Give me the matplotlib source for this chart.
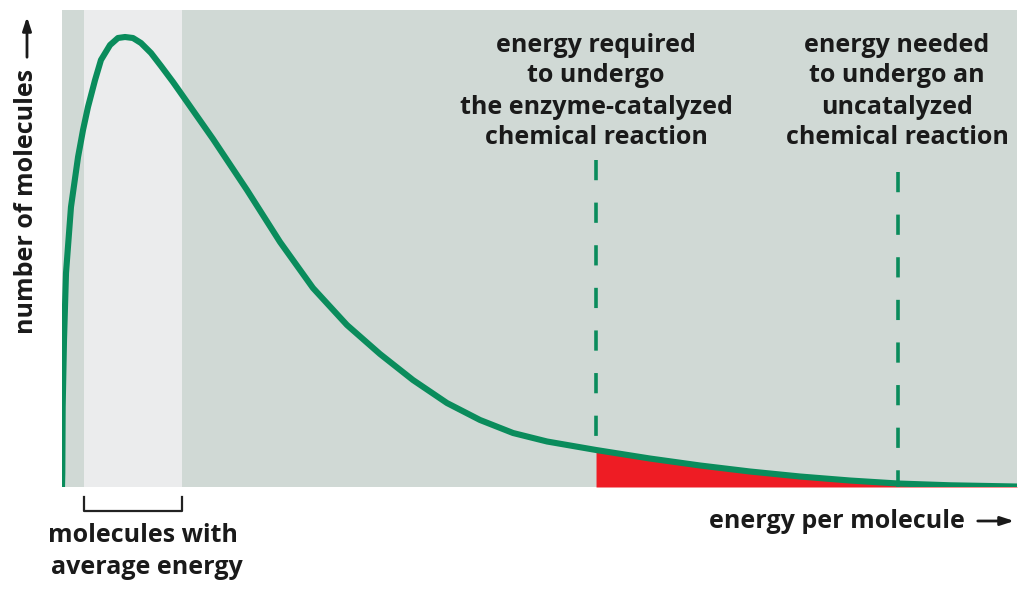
import matplotlib.pyplot as plt
import matplotlib.patches as mpatches
import numpy as np

# figure geometry (pixels of the reference image)
W, H = 1024, 594

# energy per molecule (0-100 across the panel) and number of molecules (0-100)
energy = [0.0, 0.03, 0.07, 0.21, 0.42, 0.94, 1.68, 2.2, 2.72, 3.46, 4.08, 5.03,
          5.86, 6.6, 7.43, 8.27, 9.32, 10.37, 11.62, 12.36, 15.81, 19.37, 22.83,
          26.28, 29.84, 33.3, 36.75, 40.31, 43.77, 47.23, 50.79, 55.92, 61.57,
          66.81, 72.04, 77.28, 82.51, 87.54, 92.98, 100.0]
molecules = [0.0, 2.94, 16.77, 30.82, 44.86, 58.7, 69.18, 74.84, 79.66, 85.32, 89.52,
             92.66, 94.13, 94.34, 94.13, 93.08, 90.99, 88.26, 84.91, 82.81, 72.96,
             62.26, 51.36, 41.72, 33.96, 27.88, 22.43, 17.61, 14.05, 11.32, 9.54,
             7.76, 5.97, 4.51, 3.25, 2.2, 1.36, 0.73, 0.36, 0.1]

average_band = (2.3, 12.57)        # molecules with average energy
catalyzed_energy = 55.92           # activation energy with enzyme
uncatalyzed_energy = 87.54         # activation energy without enzyme
catalyzed_top = 68.6
uncatalyzed_top = 66.0

green = '#0a8c5c'
red = '#ee1c24'
panel = '#d0d9d5'
band = '#ebeced'
ink = '#1a1a1a'

plt.rcParams['font.family'] = ['Open Sans', 'DejaVu Sans']

fig = plt.figure(figsize=(W / 100, H / 100), dpi=100)
ax = fig.add_axes([62 / W, 1 - 487 / H, (1017 - 62) / W, (487 - 10) / H])
ax.set_xlim(0, 100)
ax.set_ylim(0, 100)
ax.set_facecolor(panel)
for s in ax.spines.values():
    s.set_visible(False)
ax.set_xticks([])
ax.set_yticks([])

ax.axvspan(average_band[0], average_band[1], color=band, lw=0, zorder=0)

e = np.array(energy)
m = np.array(molecules)
hot = e >= catalyzed_energy
ax.fill_between(e[hot], 0, m[hot], color=red, lw=0, zorder=1)

m_cat = np.interp(catalyzed_energy, e, m)
ax.plot([catalyzed_energy, catalyzed_energy], [catalyzed_top, m_cat], color=green,
        lw=2.6, dashes=(5.6, 6.2), zorder=2)
ax.plot([uncatalyzed_energy, uncatalyzed_energy], [uncatalyzed_top, 0], color=green,
        lw=2.6, dashes=(5.6, 6.2), zorder=2)

ax.plot(e, m, color=green, lw=4.4, solid_joinstyle='round', solid_capstyle='butt', zorder=3)

# bracket under the average band
ax.plot([average_band[0], average_band[0], average_band[1], average_band[1]],
        [-2.1, -5.0, -5.0, -2.1], color='#222222', lw=1.6, clip_on=False)


def fx(x):
    return x / W


def fy(y):
    return 1 - y / H


tkw = dict(fontsize=18, fontweight='bold', color=ink, ha='center', va='center')
for i, line in enumerate(['energy required', 'to undergo', 'the enzyme-catalyzed',
                          'chemical reaction']):
    fig.text(fx(596), fy(45 + 31 * i), line, **tkw)
for i, line in enumerate(['energy needed', 'to undergo an', 'uncatalyzed',
                          'chemical reaction']):
    fig.text(fx(897), fy(45 + 31 * i), line, **tkw)

fig.text(fx(143), fy(536), 'molecules with', **tkw)
fig.text(fx(147), fy(568), 'average energy', **tkw)

fig.text(fx(965), fy(521), 'energy per molecule', fontsize=18, fontweight='bold',
         color=ink, ha='right', va='center')
fig.text(fx(27), fy(334), 'number of molecules', fontsize=18, fontweight='bold',
         color=ink, ha='center', va='bottom', rotation=90)

fig.add_artist(mpatches.FancyArrowPatch(
    (fx(975), fy(521)), (fx(1017), fy(521)), transform=fig.transFigure,
    arrowstyle='-|>,head_length=8,head_width=2.6', color=ink, lw=2))
fig.add_artist(mpatches.FancyArrowPatch(
    (fx(27), fy(60)), (fx(27), fy(14)), transform=fig.transFigure,
    arrowstyle='-|>,head_length=8,head_width=2.6', color=ink, lw=2))

fig.savefig('out.png', dpi=100, facecolor='white')
